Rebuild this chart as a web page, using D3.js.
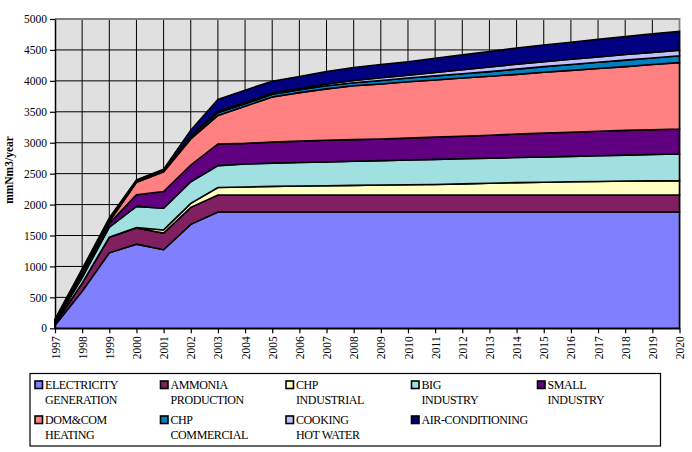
<!DOCTYPE html>
<html><head><meta charset="utf-8">
<script src="https://cdn.jsdelivr.net/npm/d3@7"></script>
<style>
body{margin:0;background:#fff;}
text{font-family:"Liberation Serif","Times New Roman",serif;fill:#000;}
</style></head>
<body><svg id="c" width="692" height="452"></svg>
<script>
const years = [1997,1998,1999,2000,2001,2002,2003,2004,2005,2006,2007,2008,2009,2010,2011,2012,2013,2014,2015,2016,2017,2018,2019,2020];
const yTicks = [0,500,1000,1500,2000,2500,3000,3500,4000,4500,5000];
const seriesNames = ["ELECTRICITY GENERATION","AMMONIA PRODUCTION","CHP INDUSTRIAL","BIG INDUSTRY","SMALL INDUSTRY","DOM&COM HEATING","CHP COMMERCIAL","COOKING HOT WATER","AIR-CONDITIONING"];
const legendLines = [["ELECTRICITY","GENERATION"],["AMMONIA","PRODUCTION"],["CHP","INDUSTRIAL"],["BIG","INDUSTRY"],["SMALL","INDUSTRY"],["DOM&COM","HEATING"],["CHP","COMMERCIAL"],["COOKING","HOT WATER"],["AIR-CONDITIONING"]];
const colors = ["#8080ff","#802060","#ffffc0","#a0e0e0","#600080","#ff8080","#0080c0","#c0c0ff","#000080"];

const electricity = [50,600,1220,1360,1270,1680,1880,1880,1880,1880,1880,1880,1880,1880,1880,1880,1880,1880,1880,1880,1880,1880,1880,1880];
const ammonia     = [20,130,250,260,270,275,275,275,275,275,275,275,275,275,275,275,275,275,275,275,275,275,275,275];
const chpIndustrial=[0,0,5,10,50,65,120,130,140,145,150,155,162,165,170,180,190,200,207,213,219,225,229,232];
const bigIndustry = [20,90,160,340,350,350,355,370,375,380,385,390,393,400,405,405,405,405,408,412,416,420,426,431];
const smallIndustry=[20,60,60,190,270,270,350,335,340,345,350,350,350,355,360,365,370,380,385,390,395,400,400,404];
const domHeating  = [10,20,30,200,320,420,460,600,730,785,830,870,890,910,925,940,955,965,985,1000,1015,1030,1055,1073];
const chpCommercial=[5,10,10,10,10,30,45,40,45,45,50,50,55,60,65,70,75,85,90,95,100,105,105,110];
const cooking     = [5,10,10,10,10,20,25,20,20,20,30,35,45,45,55,65,75,80,80,85,85,90,90,90];
const airCond     = [20,40,40,20,20,90,190,200,190,195,200,210,215,220,230,240,250,260,270,275,285,290,300,305];
const seriesValues = [electricity,ammonia,chpIndustrial,bigIndustry,smallIndustry,domHeating,chpCommercial,cooking,airCond];

const svg = d3.select("#c");
const L=55, R=679.5, T=19, B=328.3;
const x = d3.scaleLinear().domain([1997,2020]).range([L,R]);
const y = d3.scaleLinear().domain([0,5000]).range([B,T]);

const table = years.map((yr,i)=>{const o={year:yr}; seriesNames.forEach((n,j)=>o[n]=seriesValues[j][i]); return o;});
const stacked = d3.stack().keys(seriesNames)(table);

svg.append("rect").attr("x",L).attr("y",T).attr("width",R-L).attr("height",B-T).attr("fill","#e0e0e0");
svg.append("g").selectAll("line").data(yTicks.slice(1,-1)).join("line")
  .attr("x1",L).attr("x2",R).attr("y1",d=>y(d)).attr("y2",d=>y(d)).attr("stroke","#000").attr("stroke-width",1);
svg.append("g").selectAll("line").data(years.slice(1,-1)).join("line")
  .attr("y1",T).attr("y2",B).attr("x1",d=>x(d)).attr("x2",d=>x(d)).attr("stroke","#000").attr("stroke-width",1);
svg.append("path").attr("d",`M${L},${T}H${R}V${B}`).attr("fill","none").attr("stroke","#808080").attr("stroke-width",1.8);

const area = d3.area().x(d=>x(d.data.year)).y0(d=>y(d[0])).y1(d=>y(d[1]));
svg.append("g").selectAll("path").data(stacked).join("path")
  .attr("d",area).attr("fill",(d,i)=>colors[i]).attr("stroke","#000").attr("stroke-width",1.6).attr("stroke-linejoin","miter");

const yAxis = d3.axisLeft(y).tickValues(yTicks).tickSize(5).tickSizeOuter(0).tickFormat(d3.format("d"));
const gy = svg.append("g").attr("transform",`translate(${L},0)`).call(yAxis);
gy.select(".domain").attr("stroke","#000").attr("stroke-width",1.5);
gy.selectAll(".tick line").attr("stroke","#000").attr("stroke-width",1.2);
gy.selectAll(".tick text").attr("font-size","11.5px").attr("font-family","Liberation Serif").attr("x",-8).attr("fill","#000");

const xAxis = d3.axisBottom(x).tickValues(years).tickSize(5).tickSizeOuter(0).tickFormat(d3.format("d"));
const gx = svg.append("g").attr("transform",`translate(0,${B})`).call(xAxis);
gx.select(".domain").attr("stroke","#000").attr("stroke-width",1.5);
gx.selectAll(".tick line").attr("stroke","#000").attr("stroke-width",1.2);
gx.selectAll(".tick text").attr("font-size","11.5px").attr("font-family","Liberation Serif").attr("fill","#000")
  .attr("transform","rotate(-90)").attr("text-anchor","end").attr("x",-8).attr("y",0).attr("dy","0.35em");

svg.append("text").attr("transform","translate(13,170) rotate(-90)").attr("text-anchor","middle")
  .attr("font-size","11.5px").attr("font-weight","bold").text("mmNm3/year");

svg.append("rect").attr("x",30).attr("y",373.5).attr("width",630.5).attr("height",72.5).attr("fill","#fff").attr("stroke","#000").attr("stroke-width",1.2);
const colX=[35,160.5,286,411.5,537.5];
const rowY=[381,416];
const lg = svg.append("g").selectAll("g").data(seriesNames).join("g")
  .attr("transform",(d,i)=>`translate(${colX[i%5]},${rowY[Math.floor(i/5)]})`);
lg.append("rect").attr("x",0).attr("y",0).attr("width",7.5).attr("height",7.5).attr("fill",(d,i)=>colors[i]).attr("stroke","#000").attr("stroke-width",1.6);
lg.each(function(d,i){
  const g=d3.select(this);
  legendLines[i].forEach((ln,k)=>{
    g.append("text").attr("x",10).attr("y",7.8+k*15).attr("font-size","12px").attr("letter-spacing","-0.4px").text(ln);
  });
});
</script></body></html>
